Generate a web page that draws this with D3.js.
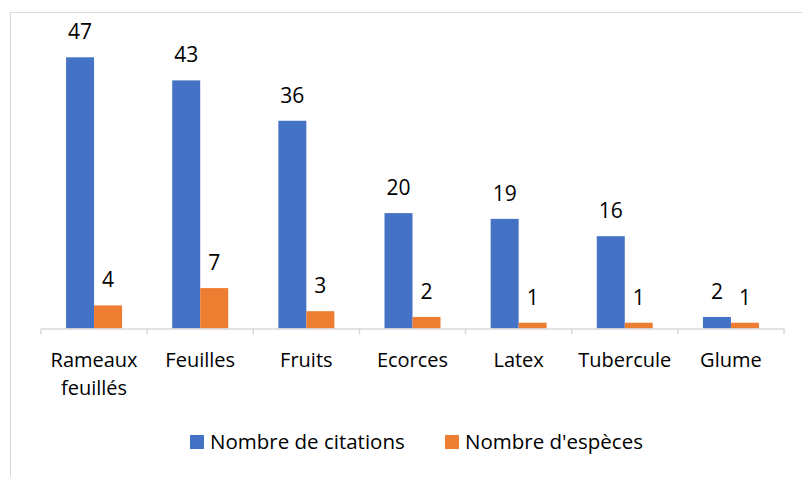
<!DOCTYPE html>
<html lang="fr">
<head>
<meta charset="UTF-8">
<script src="https://d3js.org/d3.v7.min.js"></script>
<style>
  body { margin: 0; background: #fff; }
  text { font-family: "Open Sans", "Noto Sans", sans-serif; fill: #000; }
</style>
</head>
<body>
<svg width="802" height="477"></svg>
<script>
const categories = ["Rameaux feuillés", "Feuilles", "Fruits", "Ecorces", "Latex", "Tubercule", "Glume"];
const citations = [47, 43, 36, 20, 19, 16, 2];
const especes = [4, 7, 3, 2, 1, 1, 1];
const seriesNames = ["Nombre de citations", "Nombre d'espèces"];
const colors = ["#4472C4", "#ED7D31"];

const svg = d3.select("svg");

// outer frame (cut by the picture edge)
svg.append("rect")
  .attr("x", 10.5).attr("y", 12.5)
  .attr("width", 900).attr("height", 600)
  .attr("fill", "none").attr("stroke", "#d9d9d9");

const plotLeft = 41, plotRight = 784, plotTop = 40, plotBottom = 328.5;

const x = d3.scaleBand().domain(categories).range([plotLeft, plotRight]);
const y = d3.scaleLinear().domain([0, 50]).range([plotBottom, plotTop]);
const barW = 28;

const rows = categories.map((c, i) => ({cat: c, vals: [citations[i], especes[i]]}));

const g = svg.append("g");
rows.forEach(r => {
  const cx = x(r.cat) + x.bandwidth() / 2;
  r.vals.forEach((v, j) => {
    const bx = cx - barW + j * barW;
    g.append("rect")
      .attr("x", bx).attr("y", y(v))
      .attr("width", barW).attr("height", plotBottom - y(v))
      .attr("fill", colors[j]);
    g.append("text")
      .attr("x", bx + barW / 2).attr("y", y(v) - 18)
      .attr("text-anchor", "middle")
      .attr("font-size", 21)
      .text(v);
  });
});

// axis
const axis = svg.append("g")
  .attr("transform", "translate(0," + plotBottom + ")")
  .call(d3.axisBottom(x).tickSize(0).tickFormat(""));
axis.select(".domain").attr("stroke", "#d9d9d9").attr("stroke-width", 1.5);
axis.selectAll(".tick").remove();
const bounds = categories.map(c => x(c)).concat([plotRight]);
axis.selectAll("line.sep").data(bounds).enter().append("line")
  .attr("x1", d => d).attr("x2", d => d)
  .attr("y1", 0).attr("y2", 6)
  .attr("stroke", "#d9d9d9").attr("stroke-width", 1.5);

// category labels
categories.forEach(c => {
  const words = c.split(" ");
  const t = svg.append("text")
    .attr("text-anchor", "middle")
    .attr("font-size", 20);
  words.forEach((w, i) => {
    t.append("tspan")
      .attr("x", x(c) + x.bandwidth() / 2)
      .attr("y", 367 + i * 28)
      .text(w);
  });
});

// legend
const legX = [190, 445];
seriesNames.forEach((s, i) => {
  svg.append("rect")
    .attr("x", legX[i]).attr("y", 435)
    .attr("width", 14).attr("height", 14)
    .attr("fill", colors[i]);
  svg.append("text")
    .attr("x", legX[i] + 20).attr("y", 449)
    .attr("font-size", 20.5)
    .text(s);
});
</script>
</body>
</html>
